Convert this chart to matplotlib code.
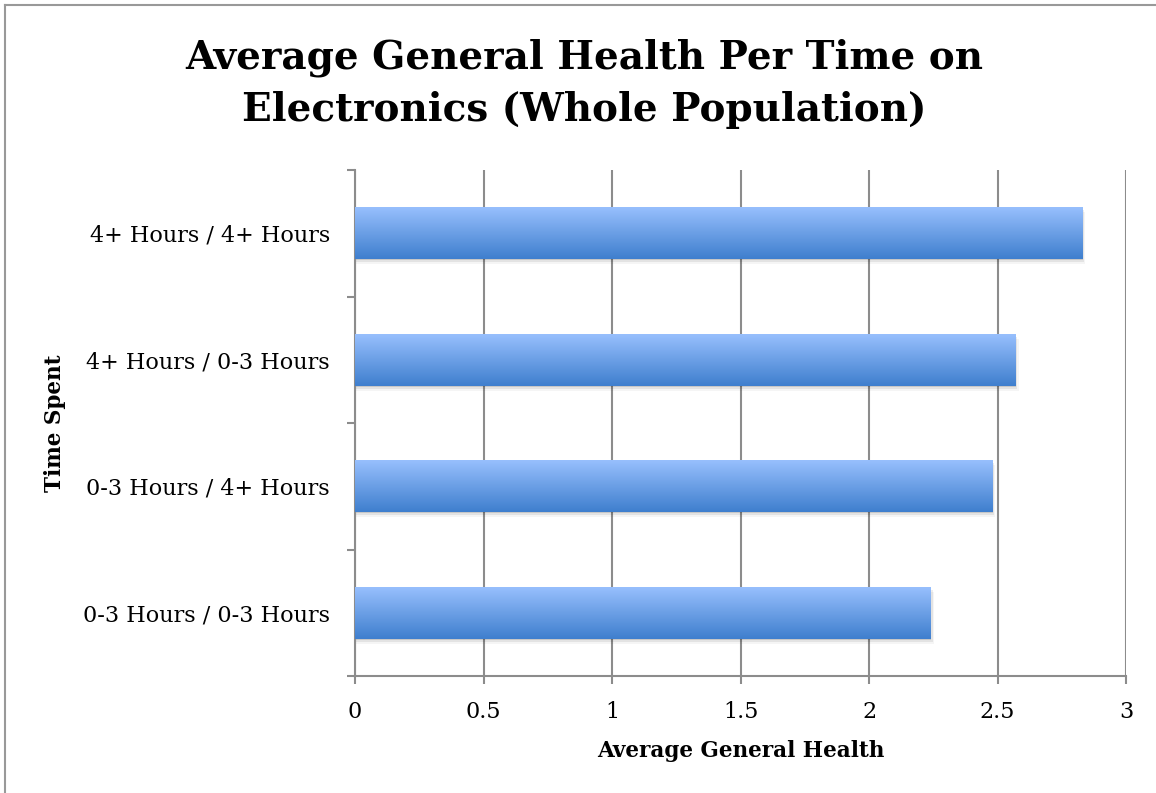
import numpy as np
import matplotlib.pyplot as plt
from matplotlib.lines import Line2D
from matplotlib.colors import LinearSegmentedColormap

categories = ['0-3 Hours / 0-3 Hours', '0-3 Hours / 4+ Hours',
              '4+ Hours / 0-3 Hours', '4+ Hours / 4+ Hours']
values = [2.24, 2.48, 2.57, 2.83]
xticks = [0, 0.5, 1, 1.5, 2, 2.5, 3]
xtick_labels = ['0', '0.5', '1', '1.5', '2', '2.5', '3']

serif = 'DejaVu Serif'
grid_c = '#8c8c8c'

fig = plt.figure(figsize=(11.56, 7.93), dpi=100)
ax = fig.add_axes([355/1156, 1-676/793, 771/1156, 506/793])

y = np.arange(len(categories))
bar_h = 0.41
bars = ax.barh(y, values, height=bar_h, color='none', edgecolor='none', zorder=3)

grad_cmap = LinearSegmentedColormap.from_list('bar', ['#3f7fce', '#97bffd'])
grad = np.linspace(0, 1, 100).reshape(-1, 1)
for rect, v, yy in zip(bars, values, y):
    # soft shadow below the bar
    for k, a in zip([0.01, 0.025, 0.04], [0.12, 0.07, 0.04]):
        ax.barh(yy - k, v + k * 0.3, height=bar_h, color='#000000', alpha=a,
                edgecolor='none', zorder=2)
    im = ax.imshow(grad, cmap=grad_cmap, aspect='auto', origin='lower',
                   extent=(0, v, yy - bar_h/2, yy + bar_h/2), zorder=3)
    im.set_clip_path(rect)

ax.set_xlim(0, 3)
ax.set_ylim(-0.5, 3.5)
ax.set_xticks(xticks)
ax.set_xticklabels(xtick_labels, fontfamily=serif, fontsize=16)
ax.set_yticks(np.arange(-0.5, len(categories), 1))
ax.set_yticklabels([])
ax.set_yticks(y, minor=True)
ax.set_yticklabels(categories, minor=True, fontfamily=serif, fontsize=16)
ax.tick_params(axis='y', which='minor', length=0, pad=18)
ax.tick_params(axis='y', which='major', length=6, width=1.5, color=grid_c)
ax.tick_params(axis='x', length=6, width=1.5, color=grid_c, pad=12)

ax.grid(axis='x', color=grid_c, linewidth=1.5, zorder=1)
ax.set_axisbelow(True)
for s in ['top', 'right']:
    ax.spines[s].set_visible(False)
for s in ['left', 'bottom']:
    ax.spines[s].set_color(grid_c)
    ax.spines[s].set_linewidth(1.5)

ax.set_xlabel('Average General Health', fontfamily=serif, fontsize=15.5,
              fontweight='bold', labelpad=12)
ax.set_ylabel('Time Spent', fontfamily=serif, fontsize=15.5,
              fontweight='bold', labelpad=12)

fig.text(0.505, 1-58/793, 'Average General Health Per Time on', ha='center',
         va='center', fontfamily=serif, fontsize=28, fontweight='bold')
fig.text(0.505, 1-110/793, 'Electronics (Whole Population)', ha='center',
         va='center', fontfamily=serif, fontsize=28, fontweight='bold')

# chart border (left and top visible)
fig.add_artist(Line2D([5/1156, 5/1156], [0, 1-5/793], color='#999999', lw=1.5))
fig.add_artist(Line2D([5/1156, 1], [1-5/793, 1-5/793], color='#999999', lw=1.5))

fig.savefig('out.png', dpi=100)
